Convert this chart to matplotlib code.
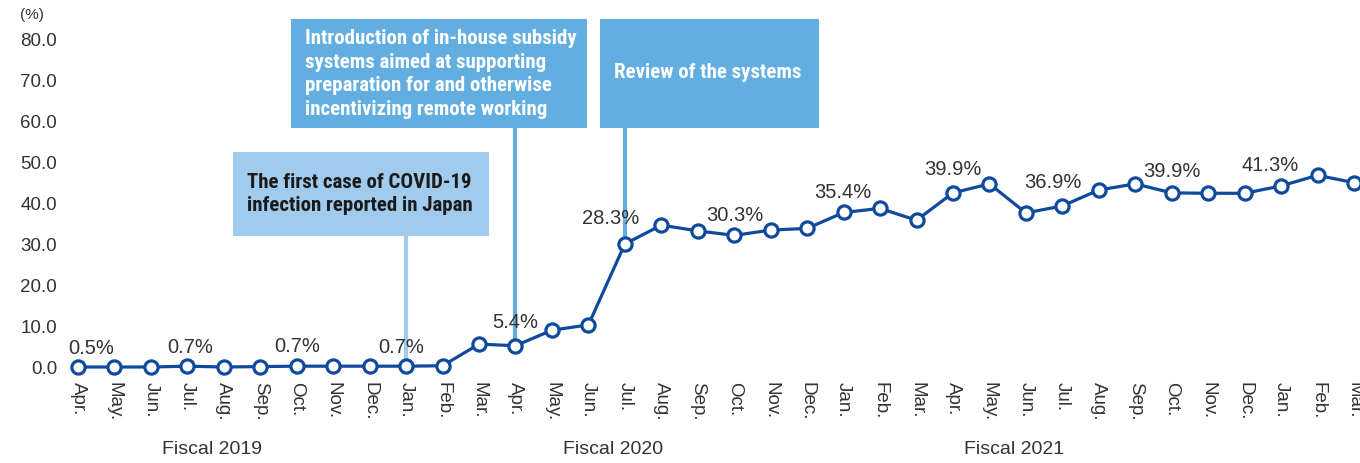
import matplotlib
matplotlib.use("Agg")
import matplotlib.pyplot as plt
from matplotlib.patches import Rectangle
from matplotlib.transforms import blended_transform_factory

# Monthly values (%), Apr 2019 - Mar 2022
months = ["Apr.", "May.", "Jun.", "Jul.", "Aug.", "Sep.", "Oct.", "Nov.", "Dec.", "Jan.", "Feb.", "Mar."] * 3
values = [0.0, 0.0, 0.0, 0.2, 0.0, 0.1, 0.2, 0.2, 0.2, 0.2, 0.3,
          5.6, 5.2, 9.0, 10.3, 30.1, 34.7, 33.3, 32.2, 33.5, 33.9, 37.8, 38.8,
          35.9, 42.6, 44.8, 37.7, 39.4, 43.3, 44.8, 42.6, 42.5, 42.5, 44.3, 46.9, 45.1]
years = ["Fiscal 2019", "Fiscal 2020", "Fiscal 2021"]
yticks = [0, 10, 20, 30, 40, 50, 60, 70, 80]

# value labels shown on the chart
label_idx = [0, 3, 6, 9, 12, 15, 18, 21, 24, 26, 30, 33]
label_txt = ["0.5%", "0.7%", "0.7%", "0.7%", "5.4%", "28.3%", "30.3%", "35.4%",
             "39.9%", "36.9%", "39.9%", "41.3%"]

# event callouts
events = ["The first case of COVID-19\ninfection reported in Japan",
          "Introduction of in-house subsidy\nsystems aimed at supporting\npreparation for and otherwise\nincentivizing remote working",
          "Review of the systems"]
event_idx = [9, 12, 15]

W, H = 1360, 463
fig = plt.figure(figsize=(W / 100, H / 100), dpi=100)

# place axes so that x index 0 -> 78px, 35 -> 1354px ; y 0 -> 367px, 80 -> 40px
px_x = (1354 - 78) / 35
px_y = (367 - 40) / 80
ax_l, ax_r = 60, 1360
ax_t, ax_b = 30, 374
ax = fig.add_axes([ax_l / W, 1 - ax_b / H, (ax_r - ax_l) / W, (ax_b - ax_t) / H])
ax.set_xlim(-(78 - ax_l) / px_x, 35 + (ax_r - 1354) / px_x)
ax.set_ylim(-(ax_b - 367) / px_y, 80 + (40 - ax_t) / px_y)
for s in ax.spines.values():
    s.set_visible(False)

txt_col = "#333333"
line_col = "#0f4a9c"
x = list(range(len(values)))

ax.plot(x, values, color=line_col, lw=2.3, marker="o", ms=9.5, mfc="white",
        mec=line_col, mew=2.3, zorder=5, clip_on=False)

ax.set_yticks(yticks)
ax.set_yticklabels([f"{v:.1f}" for v in yticks])
ax.set_xticks(x)
ax.set_xticklabels(months, rotation=-90, va="top", ha="center")
ax.tick_params(axis="both", length=0, labelsize=13.5, labelcolor=txt_col,
               labelfontfamily="Liberation Sans")
ax.tick_params(axis="y", pad=2)
ax.tick_params(axis="x", pad=6)

fig.text(20 / W, 1 - 15 / H, "(%)", fontsize=11, color=txt_col,
         family="Liberation Sans", va="center")

trans = blended_transform_factory(ax.transData, fig.transFigure)
for yr, cx in zip(years, [3.68, 14.67, 25.67]):
    ax.text(cx, 1 - 450 / H, yr, transform=trans, ha="center", va="center",
            fontsize=14, color=txt_col, family="Liberation Sans")

# value label offsets (px)
offs = {0: (13, 19), 3: (3, 19), 6: (0, 20), 9: (-5, 19), 12: (0, 23), 15: (-14, 25),
        18: (1, 20), 21: (-1, 20), 24: (0, 23), 26: (27, 30), 30: (0, 21), 33: (-11, 20)}
for i, t in zip(label_idx, label_txt):
    dx, dy = offs[i]
    ax.annotate(t, (i, values[i]), xytext=(dx, dy), textcoords="offset pixels",
                ha="center", va="center", fontsize=14.5, color=txt_col,
                family="Liberation Sans", zorder=6)

# callout boxes (pixel boxes converted to data)
def dx_(px):
    return (px - 78) / px_x

def dy_(py):
    return (367 - py) / px_y

boxes = [(233, 152, 489, 236), (291, 19, 587, 128), (600, 19, 819, 128)]
box_cols = ["#a0cbed", "#62aee1", "#62aee1"]
text_cols = ["#1a1a1a", "white", "white"]
line_cols = ["#a0cbed", "#62aee1", "#62aee1"]
text_y = [194, 74, 73]
line_end = [366, 340, 240]

for ev, idx, (x0, y0, x1, y1), bc, tc, lc, ty, le in zip(
        events, event_idx, boxes, box_cols, text_cols, line_cols, text_y, line_end):
    ax.add_patch(Rectangle((dx_(x0), dy_(y1)), dx_(x1) - dx_(x0), dy_(y0) - dy_(y1),
                           facecolor=bc, edgecolor="none", clip_on=False, zorder=3))
    ax.plot([idx, idx], [dy_(y1), dy_(le)], color=lc, lw=3, zorder=2, clip_on=False)
    ax.text(dx_(x0 + 14), dy_(ty), ev, ha="left", va="center", color=tc,
            fontsize=15, fontweight="bold", fontstretch="condensed", linespacing=1.3,
            family=["Roboto Condensed", "DejaVu Sans"], zorder=4, clip_on=False)

fig.savefig("out.png", dpi=100)
